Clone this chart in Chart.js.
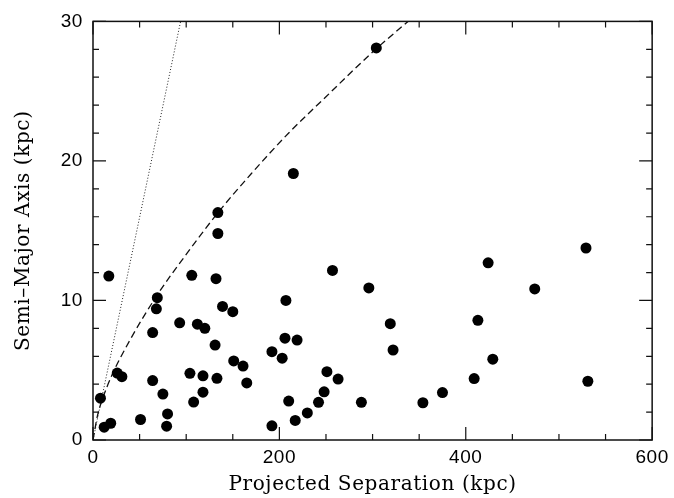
<!DOCTYPE html>
<html>
<head>
<meta charset="utf-8">
<script src="https://cdn.jsdelivr.net/npm/chart.js@4/dist/chart.umd.min.js"></script>
<style>
  html, body { margin: 0; padding: 0; background: #fff; }
  #wrap { width: 674px; height: 498px; }
</style>
</head>
<body>
<div id="wrap"><canvas id="chart"></canvas></div>
<script>
// Projected separation (kpc) vs semi-major axis (kpc)
const separation = [
  304, 215, 134, 134, 17, 106, 132, 257, 296, 69, 68, 207, 139, 150,
  93, 112, 120, 64, 206, 219, 131, 192, 203, 151, 161, 251, 263, 26,
  31, 104, 118, 133, 64, 165, 75, 118, 248, 8, 108, 210, 242, 288,
  230, 80, 51, 217, 19, 12, 79, 192,
  529, 424, 474, 319, 413, 322, 429, 409, 531, 375, 354
];
const semiMajor = [
  28.1, 19.1, 16.3, 14.8, 11.75, 11.8, 11.56, 12.15, 10.9, 10.2, 9.4, 10.0, 9.57, 9.2,
  8.4, 8.3, 8.0, 7.7, 7.3, 7.16, 6.8, 6.33, 5.86, 5.67, 5.3, 4.9, 4.37, 4.8,
  4.54, 4.78, 4.6, 4.42, 4.26, 4.09, 3.29, 3.43, 3.45, 3.0, 2.72, 2.79, 2.7, 2.7,
  1.94, 1.87, 1.47, 1.4, 1.2, 0.92, 0.99, 1.02,
  13.76, 12.7, 10.83, 8.34, 8.58, 6.45, 5.79, 4.4, 4.21, 3.4, 2.67
];

// dashed curve
const curveX = [0, 5, 10, 20, 40, 70, 100, 133, 170, 210, 250, 300, 338];
const curveY = [0, 1.8, 2.9, 4.6, 7.2, 10.5, 13.3, 16.2, 19.1, 22.0, 24.6, 27.8, 30];

// dotted line
const dotX = [0, 94];
const dotY = [0, 30];

const xMajor = [0, 200, 400, 600];
const xMinorStep = 50;
const yMajor = [0, 10, 20, 30];
const yMinorStep = 2;

function pairs(xs, ys) {
  return xs.map((x, i) => ({ x: x, y: ys[i] }));
}

// wider letter spacing, like the scanned plot lettering
const spacingPlugin = {
  id: 'spacing',
  beforeDraw(chart) { chart.ctx.letterSpacing = '0.6px'; }
};

// frame + inward ticks on all four sides
const framePlugin = {
  id: 'frame',
  afterDraw(chart) {
    const { ctx, chartArea: a, scales } = chart;
    const xs = scales.x, ys = scales.y;
    ctx.save();
    ctx.strokeStyle = '#111';
    ctx.lineWidth = 1.5;
    ctx.strokeRect(a.left, a.top, a.right - a.left, a.bottom - a.top);
    ctx.lineWidth = 1.2;
    ctx.beginPath();
    for (let v = xs.min; v <= xs.max; v += xMinorStep) {
      const len = xMajor.includes(v) ? 13 : 6;
      const px = xs.getPixelForValue(v);
      ctx.moveTo(px, a.bottom); ctx.lineTo(px, a.bottom - len);
      ctx.moveTo(px, a.top); ctx.lineTo(px, a.top + len);
    }
    for (let v = ys.min; v <= ys.max; v += yMinorStep) {
      const len = yMajor.includes(v) ? 13 : 6;
      const py = ys.getPixelForValue(v);
      ctx.moveTo(a.left, py); ctx.lineTo(a.left + len, py);
      ctx.moveTo(a.right, py); ctx.lineTo(a.right - len, py);
    }
    ctx.stroke();
    ctx.restore();
  }
};

const tickFont = { family: 'Liberation Sans', size: 19 };
const titleFont = { family: 'DejaVu Serif', size: 20 };

new Chart(document.getElementById('chart'), {
  type: 'scatter',
  data: {
    datasets: [
      {
        data: pairs(separation, semiMajor),
        backgroundColor: '#000',
        borderWidth: 0,
        pointRadius: 5.5,
        pointHoverRadius: 5.5
      },
      {
        type: 'line',
        data: pairs(curveX, curveY),
        borderColor: '#111',
        borderWidth: 1.3,
        borderDash: [7, 4],
        pointRadius: 0,
        cubicInterpolationMode: 'monotone',
        fill: false
      },
      {
        type: 'line',
        data: pairs(dotX, dotY),
        borderColor: '#222',
        borderWidth: 1,
        borderDash: [1, 2],
        pointRadius: 0,
        fill: false
      }
    ]
  },
  options: {
    responsive: true,
    maintainAspectRatio: false,
    animation: false,
    events: [],
    layout: { padding: { top: 14, right: 14, left: 0, bottom: 0 } },
    plugins: {
      legend: { display: false },
      tooltip: { enabled: false }
    },
    scales: {
      x: {
        type: 'linear',
        min: 0,
        max: 600,
        border: { display: false },
        grid: { display: false, drawTicks: false },
        ticks: {
          stepSize: 200,
          color: '#000',
          font: tickFont,
          padding: 6,
          maxRotation: 0
        },
        title: {
          display: true,
          text: 'Projected Separation (kpc)',
          color: '#000',
          font: titleFont,
          padding: { top: 4, bottom: 1 }
        },
        afterFit(scale) { scale.height = 58; }
      },
      y: {
        type: 'linear',
        min: 0,
        max: 30,
        border: { display: false },
        grid: { display: false, drawTicks: false },
        ticks: {
          stepSize: 10,
          color: '#000',
          font: tickFont,
          padding: 10
        },
        title: {
          display: true,
          text: 'Semi\u2013Major Axis (kpc)',
          color: '#000',
          font: titleFont,
          padding: { top: 12, bottom: 4 }
        },
        afterFit(scale) { scale.width = 93; }
      }
    }
  },
  plugins: [spacingPlugin, framePlugin]
});
</script>
</body>
</html>
